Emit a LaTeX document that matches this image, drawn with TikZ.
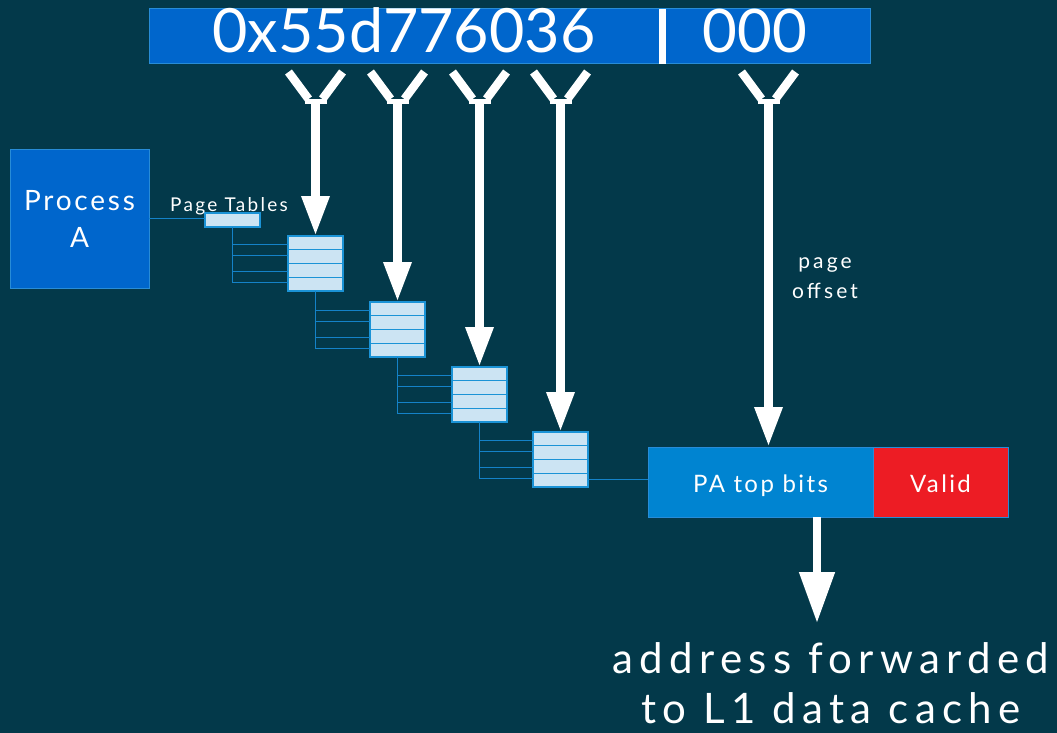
\documentclass[tikz,border=0pt]{standalone}
\usepackage{fontspec}
\setmainfont{Lato}
\usetikzlibrary{arrows.meta,calc}
\definecolor{bg}{RGB}{3,57,74}
\definecolor{darkblue}{RGB}{0,102,204}
\definecolor{edgeblue}{RGB}{40,140,215}
\definecolor{pablue}{RGB}{0,132,209}
\definecolor{validred}{RGB}{237,28,36}
\definecolor{tabfill}{RGB}{204,228,243}
\definecolor{tabline}{RGB}{27,147,214}
\definecolor{wirec}{RGB}{20,130,200}
\newcommand{\ls}[1]{\addfontfeatures{LetterSpace=#1}}
\begin{document}
\begin{tikzpicture}[x=1pt,y=-1pt,
  box/.style={draw=edgeblue,line width=1pt,fill=darkblue,inner sep=0pt,outer sep=0pt,text=white},
  ptab/.style={draw=tabline,line width=1.2pt,fill=tabfill,minimum width=55pt,minimum height=55pt,inner sep=0pt,outer sep=0pt,anchor=north west},
  wire/.style={draw=wirec,line width=1.2pt},
  bigarrow/.style={draw=white,line width=9pt,-{Triangle[width=26pt,length=40pt]}},
  lbl/.style={text=white,inner sep=0pt},
  entry/.style={draw=edgeblue,line width=0.8pt,minimum height=70pt,anchor=north west,
    inner sep=0pt,outer sep=0pt,text=white,font=\fontsize{24}{24}\selectfont\ls{10}}
]
\fill[bg] (0,0) rectangle (1057,733);
\useasboundingbox (0,0) rectangle (1057,733);

% address bar
\node[box,minimum width=721pt,minimum height=55pt,anchor=north west] (addr) at (149,9) {};
\node[lbl,anchor=base,font=\fontsize{61}{61}\selectfont] (vpn) at (404,53) {0x55d776036};
\node[lbl,anchor=base,font=\fontsize{60}{60}\selectfont] (off) at (755,53) {000};
\fill[white] (659,9) rectangle (666,64);

% process box
\node[box,minimum width=139pt,minimum height=139pt,anchor=north west,align=center,
  font=\fontsize{28}{37}\selectfont\ls{10}] (proc) at (10,149) {Process\\A};

% page tables
\node[ptab,minimum height=14pt] (pt0) at (205,213) {};
\node[lbl,anchor=base,font=\fontsize{19}{19}\selectfont\ls{12}] (ptl) at (229,211) {Page Tables};
\node[ptab] (t1) at (288,236) {};
\node[ptab] (t2) at (370,302) {};
\node[ptab] (t3) at (452,367) {};
\node[ptab] (t4) at (533,432) {};
\foreach \t in {t1,t2,t3,t4}{
  \foreach \k in {1,2,3}{
    \draw[tabline,line width=1.2pt] ($(\t.north west)+(0,13.75*\k)$) -- ($(\t.north east)+(0,13.75*\k)$);
  }
}
\draw[wire] (proc.east) -- (proc.east -| pt0.west);
\foreach \a/\b in {pt0/t1,t1/t2,t2/t3,t3/t4}{
  \foreach \o in {8.5,19.5,35.5,46.5}{
    \draw[wire] ($(\b.north west)+(0,\o)$) -| (\a.south);
  }
}

% PA entry
\node[entry,fill=pablue,minimum width=225pt] (pa) at (648,447) {\raisebox{-10pt}[0pt][0pt]{PA top bits}};
\node[entry,fill=validred,minimum width=135pt] (valid) at (873,447) {\raisebox{-10pt}[0pt][0pt]{Valid}};
\draw[wire] ($(pa.west)+(0,-2.5)$) -- ($(pa.west -| t4.east)+(0,-2.5)$);

% splitters and arrows
\coordinate (s1) at ($(t1.north |- addr.south)+(0,37)$);
\coordinate (s2) at ($(t2.north |- addr.south)+(0,37)$);
\coordinate (s3) at ($(t3.north |- addr.south)+(0,37)$);
\coordinate (s4) at ($(t4.north |- addr.south)+(0,37)$);
\coordinate (s5) at (768.5,101);
\foreach \s in {s1,s2,s3,s4,s5}{
  \draw[white,line width=8.5pt] ($(\s)+(-27,-29)$) -- ($(\s)+(-7,-2)$);
  \draw[white,line width=8.5pt] ($(\s)+(27,-29)$) -- ($(\s)+(7,-2)$);
  \fill[white] ($(\s)+(-11,-2)$) rectangle ($(\s)+(11,3)$);
}
\draw[bigarrow] (s1) -- (t1.north);
\draw[bigarrow] (s2) -- (t2.north);
\draw[bigarrow] (s3) -- (t3.north);
\draw[bigarrow] (s4) -- (t4.north);
\draw[bigarrow] (s5) -- (s5 |- pa.north);

\node[lbl,align=center,font=\fontsize{21}{30}\selectfont\ls{15}] (po) at (825,278) {page\\offset};

% output arrow
\coordinate (outend) at (817,623);
\draw[draw=white,line width=8pt,-{Triangle[width=34pt,length=51pt]}] (outend |- pa.south) -- (outend);
\node[lbl,anchor=base,font=\fontsize{42}{42}\selectfont\ls{15}] (fw1) at (831,673) {address forwarded};
\node[lbl,anchor=base,font=\fontsize{42}{42}\selectfont\ls{15}] (fw2) at (831,723) {to L1 data cache};
\end{tikzpicture}
\end{document}
